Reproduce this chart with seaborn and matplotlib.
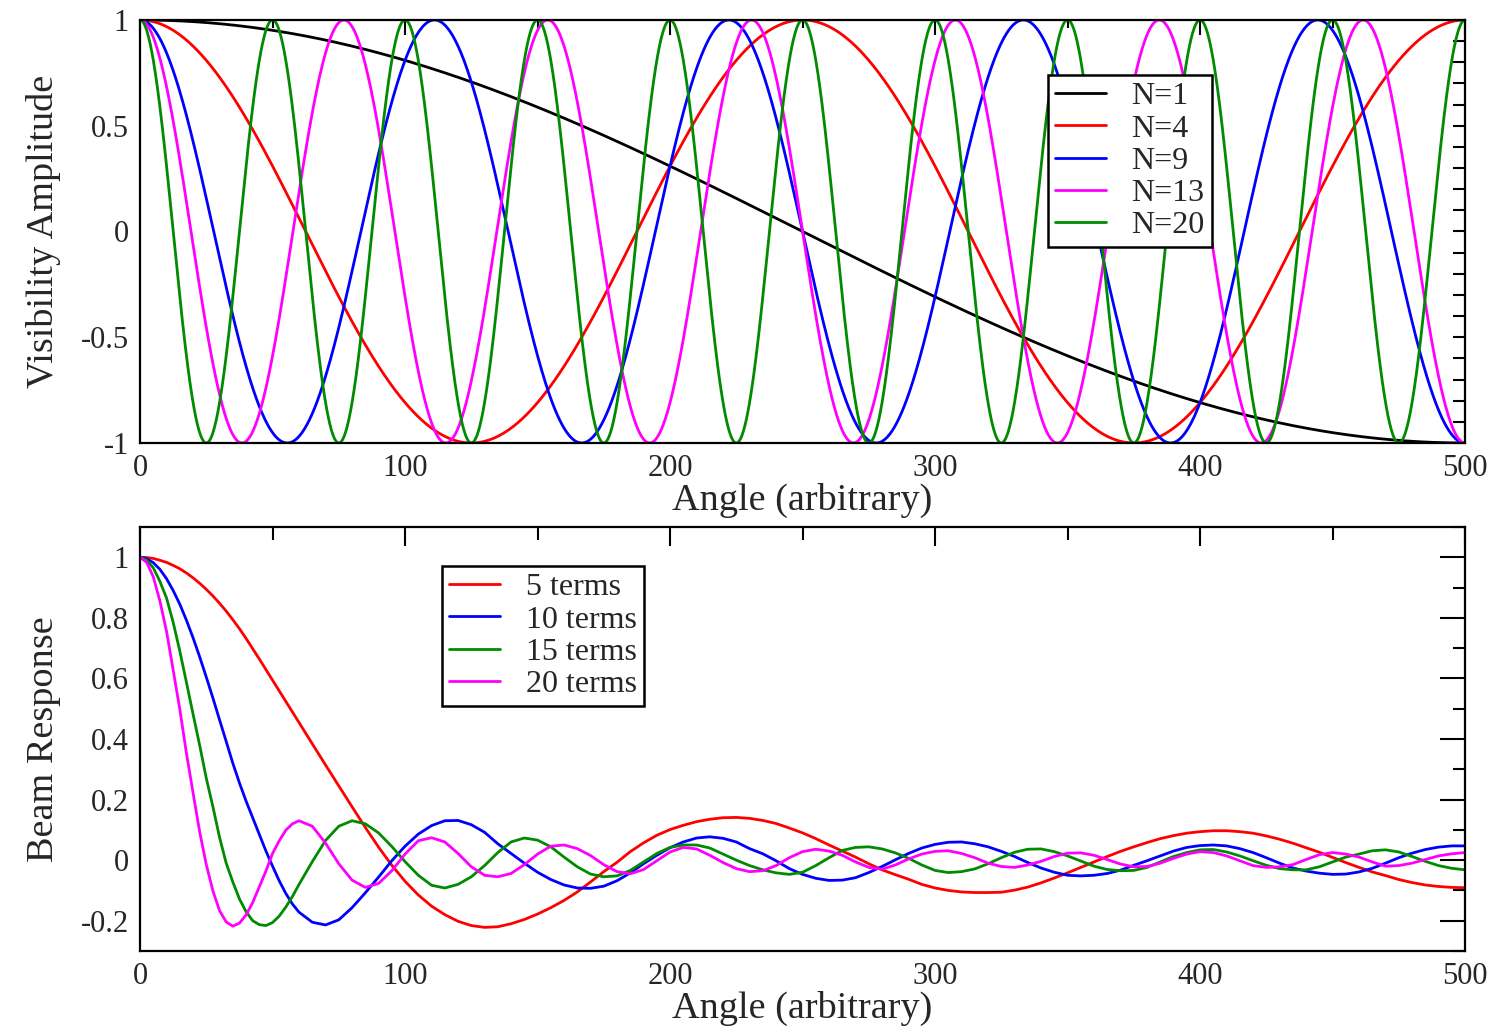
import numpy as np
import pandas as pd
import matplotlib
matplotlib.use("Agg")
import matplotlib.pyplot as plt
import seaborn as sns
from matplotlib.ticker import MultipleLocator, FuncFormatter

# ---------------- data ----------------
# Top panel: visibility amplitude of a single baseline of N units
N_VALUES = [1, 4, 9, 13, 20]
TOP_LABELS = ["N=1", "N=4", "N=9", "N=13", "N=20"]
TOP_COLORS = ["#000000", "#ff0000", "#0000ff", "#ff00ff", "#008b00"]
ANGLE_MAX = 500

# Bottom panel: beam response
# (every 2.5 angle units up to 60, then every 5)
BEAM_X = [0, 2.5, 5, 7.5, 10, 12.5, 15, 17.5, 20, 22.5, 25, 27.5, 30, 32.5, 35,
          37.5, 40, 42.5, 45, 47.5, 50, 52.5, 55, 57.5, 60] + list(range(65, 501, 5))
BEAM_5 = [1.000, 0.999, 0.996, 0.990, 0.983, 0.973, 0.962, 0.948, 0.932, 0.914,
          0.894, 0.872, 0.848, 0.822, 0.794, 0.764, 0.732, 0.698, 0.664, 0.629,
          0.594, 0.559, 0.524, 0.489, 0.454,
          0.384, 0.314, 0.245, 0.176, 0.108, 0.043, -0.017,
          -0.070, -0.115, -0.152, -0.180, -0.202, -0.216, -0.222, -0.220, -0.210, -0.196,
          -0.178, -0.157, -0.133, -0.105, -0.072, -0.038, -0.007, 0.028, 0.057, 0.082,
          0.101, 0.115, 0.127, 0.135, 0.140, 0.141, 0.138, 0.131, 0.121, 0.106,
          0.090, 0.071, 0.050, 0.030, 0.010, -0.012, -0.032, -0.048, -0.063, -0.080,
          -0.092, -0.100, -0.105, -0.107, -0.107, -0.106, -0.099, -0.089, -0.075, -0.059,
          -0.042, -0.024, -0.006, 0.012, 0.029, 0.044, 0.058, 0.071, 0.081, 0.089,
          0.094, 0.097, 0.097, 0.094, 0.089, 0.080, 0.069, 0.056, 0.041, 0.026,
          0.009, -0.008, -0.024, -0.039, -0.051, -0.064, -0.074, -0.082, -0.087, -0.090,
          -0.091]
BEAM_10 = [1.000, 0.995, 0.982, 0.960, 0.929, 0.890, 0.845, 0.792, 0.734, 0.671,
           0.604, 0.535, 0.463, 0.392, 0.320, 0.255, 0.195, 0.140, 0.085, 0.030,
           -0.020, -0.068, -0.110, -0.145, -0.172,
           -0.205, -0.214, -0.197, -0.157, -0.108, -0.056, -0.002,
           0.046, 0.086, 0.114, 0.130, 0.131, 0.117, 0.092, 0.054, 0.022, -0.010,
           -0.040, -0.064, -0.082, -0.092, -0.093, -0.086, -0.068, -0.042, -0.012, 0.016,
           0.041, 0.060, 0.073, 0.077, 0.072, 0.060, 0.038, 0.021, -0.002, -0.028,
           -0.047, -0.060, -0.067, -0.066, -0.058, -0.041, -0.021, 0.001, 0.022, 0.040,
           0.052, 0.059, 0.060, 0.054, 0.044, 0.029, 0.012, -0.008, -0.026, -0.040,
           -0.050, -0.052, -0.050, -0.044, -0.033, -0.017, -0.002, 0.014, 0.030, 0.042,
           0.048, 0.050, 0.047, 0.038, 0.025, 0.008, -0.010, -0.026, -0.036, -0.043,
           -0.047, -0.046, -0.039, -0.027, -0.010, 0.008, 0.023, 0.035, 0.043, 0.047,
           0.047]
BEAM_15 = [1.000, 0.990, 0.965, 0.920, 0.865, 0.785, 0.690, 0.587, 0.482, 0.379,
           0.270, 0.176, 0.075, -0.010, -0.072, -0.128, -0.170, -0.200, -0.213, -0.216,
           -0.206, -0.185, -0.155, -0.120, -0.080,
           -0.005, 0.065, 0.112, 0.130, 0.120, 0.090, 0.045,
           -0.005, -0.050, -0.083, -0.092, -0.080, -0.055, -0.018, 0.025, 0.060, 0.073,
           0.066, 0.044, 0.010, -0.022, -0.046, -0.055, -0.052, -0.034, -0.006, 0.022,
           0.042, 0.050, 0.050, 0.040, 0.020, 0.000, -0.018, -0.032, -0.042, -0.047,
           -0.040, -0.018, 0.008, 0.032, 0.042, 0.044, 0.037, 0.024, 0.006, -0.016,
           -0.034, -0.041, -0.038, -0.029, -0.012, 0.008, 0.026, 0.036, 0.037, 0.028,
           0.014, -0.003, -0.020, -0.031, -0.035, -0.034, -0.024, -0.006, 0.012, 0.025,
           0.034, 0.035, 0.027, 0.014, -0.002, -0.017, -0.028, -0.032, -0.032, -0.022,
           -0.006, 0.010, 0.020, 0.031, 0.034, 0.027, 0.012, -0.004, -0.018, -0.027,
           -0.032]
BEAM_20 = [1.000, 0.983, 0.935, 0.855, 0.755, 0.627, 0.498, 0.353, 0.222, 0.093,
           -0.015, -0.102, -0.167, -0.204, -0.218, -0.208, -0.181, -0.140, -0.088, -0.036,
           0.022, 0.064, 0.099, 0.120, 0.130,
           0.112, 0.056, -0.012, -0.066, -0.090, -0.077, -0.035,
           0.020, 0.064, 0.074, 0.060, 0.022, -0.022, -0.050, -0.055, -0.044, -0.015,
           0.020, 0.046, 0.050, 0.038, 0.015, -0.015, -0.038, -0.045, -0.031, -0.002,
           0.027, 0.042, 0.037, 0.016, -0.008, -0.028, -0.038, -0.035, -0.018, 0.008,
           0.028, 0.036, 0.030, 0.016, -0.006, -0.024, -0.030, -0.016, 0.004, 0.020,
           0.029, 0.031, 0.022, 0.008, -0.010, -0.021, -0.024, -0.016, -0.004, 0.012,
           0.023, 0.024, 0.016, 0.002, -0.013, -0.022, -0.021, -0.010, 0.006, 0.020,
           0.028, 0.025, 0.014, -0.002, -0.018, -0.024, -0.022, -0.015, 0.002, 0.018,
           0.025, 0.020, 0.010, -0.006, -0.020, -0.018, -0.010, 0.002, 0.014, 0.021,
           0.025]
BEAM_SERIES = [BEAM_5, BEAM_10, BEAM_15, BEAM_20]
BEAM_LABELS = ["5 terms", "10 terms", "15 terms", "20 terms"]
BEAM_COLORS = ["#ff0000", "#0000ff", "#008b00", "#ff00ff"]

# ---------------- style ----------------
sns.set_style("white")
plt.rcParams["font.family"] = ["Liberation Serif", "DejaVu Serif"]
plt.rcParams["axes.unicode_minus"] = False

TICK_FS = 22
LABEL_FS = 27.5
LEGEND_FS = 23


def fmt(v, pos):
    if abs(v) < 1e-9:
        v = 0.0
    return f"{v:g}"


def style_axes(ax, ymajor, yminor, xlen, ylen):
    ax.xaxis.set_major_locator(MultipleLocator(100))
    ax.xaxis.set_minor_locator(MultipleLocator(50))
    ax.yaxis.set_major_locator(MultipleLocator(ymajor))
    ax.yaxis.set_minor_locator(MultipleLocator(yminor))
    ax.xaxis.set_major_formatter(FuncFormatter(fmt))
    ax.yaxis.set_major_formatter(FuncFormatter(fmt))
    ax.tick_params(which="both", direction="in", top=True, right=True,
                   labelsize=TICK_FS, width=1.5, color="black", pad=8)
    ax.tick_params(axis="x", which="major", length=xlen[0])
    ax.tick_params(axis="x", which="minor", length=xlen[1])
    ax.tick_params(axis="y", which="major", length=ylen[0])
    ax.tick_params(axis="y", which="minor", length=ylen[1])
    for s in ax.spines.values():
        s.set_linewidth(1.6)
        s.set_color("black")
        s.set_visible(True)


def make_legend(ax, anchor):
    leg = ax.legend(loc="upper left", bbox_to_anchor=anchor,
                    fontsize=LEGEND_FS, frameon=True, fancybox=False,
                    edgecolor="black", framealpha=1, handlelength=1.6,
                    handletextpad=0.8, labelspacing=0.09, borderpad=0.22,
                    borderaxespad=0)
    leg.get_frame().set_linewidth(1.8)
    return leg


fig = plt.figure(figsize=(14.98, 10.29), dpi=100)
ax1 = fig.add_axes([0.0935, 0.5695, 0.8845, 0.4111])
ax2 = fig.add_axes([0.0935, 0.0758, 0.8845, 0.4121])

# ---- top panel ----
angle = np.linspace(0, ANGLE_MAX, 2501)
for n, lab, col in zip(N_VALUES, TOP_LABELS, TOP_COLORS):
    df = pd.DataFrame({"angle": angle,
                       "amp": np.cos(n * np.pi * angle / ANGLE_MAX)})
    sns.lineplot(data=df, x="angle", y="amp", ax=ax1, color=col, lw=2.0,
                 label=lab, estimator=None, sort=False)
ax1.set_xlim(0, 500)
ax1.set_ylim(-1, 1)
style_axes(ax1, 0.5, 0.1, (11, 6), (9, 9))
ax1.set_xlabel("Angle (arbitrary)", fontsize=LABEL_FS, labelpad=0)
ax1.set_ylabel("Visibility Amplitude", fontsize=LABEL_FS, labelpad=14)
make_legend(ax1, (0.685, 0.870))

# ---- bottom panel ----
for ys, lab, col in zip(BEAM_SERIES, BEAM_LABELS, BEAM_COLORS):
    df = pd.DataFrame({"angle": BEAM_X, "resp": ys})
    sns.lineplot(data=df, x="angle", y="resp", ax=ax2, color=col, lw=2.0,
                 label=lab, estimator=None, sort=False)
ax2.set_xlim(0, 500)
ax2.set_ylim(-0.3, 1.1)
style_axes(ax2, 0.2, 0.1, (14, 9), (18, 8.5))
ax2.set_xlabel("Angle (arbitrary)", fontsize=LABEL_FS, labelpad=0)
ax2.set_ylabel("Beam Response", fontsize=LABEL_FS, labelpad=14)
make_legend(ax2, (0.228, 0.908))

fig.savefig("out.png", dpi=100)
